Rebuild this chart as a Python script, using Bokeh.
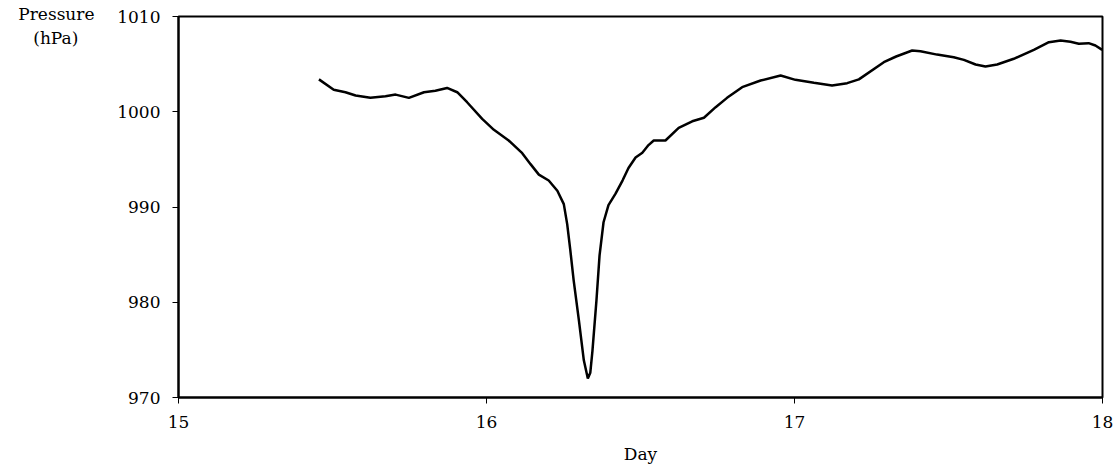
from bokeh.plotting import figure
from bokeh.models import Range1d, FixedTicker, LinearAxis
from bokeh.embed import file_html
from bokeh.resources import INLINE

day = [15.456, 15.504, 15.542, 15.575, 15.623, 15.672, 15.705, 15.748, 15.797, 15.834,
       15.872, 15.905, 15.937, 15.986, 16.024, 16.072, 16.116, 16.143, 16.170, 16.202,
       16.230, 16.251, 16.262, 16.272, 16.283, 16.300, 16.316, 16.329, 16.337, 16.344,
       16.357, 16.367, 16.380, 16.396, 16.419, 16.442, 16.461, 16.484, 16.506, 16.526,
       16.543, 16.581, 16.624, 16.668, 16.706, 16.744, 16.781, 16.830, 16.890, 16.955,
       17.003, 17.063, 17.122, 17.171, 17.209, 17.290, 17.330, 17.382, 17.409, 17.463,
       17.517, 17.550, 17.588, 17.620, 17.658, 17.712, 17.777, 17.826, 17.864, 17.896,
       17.923, 17.955, 17.977, 17.999]
pressure = [1003.4, 1002.3, 1002.05, 1001.7, 1001.46, 1001.63, 1001.8, 1001.46, 1002.05, 1002.2,
            1002.5, 1002.05, 1001.0, 999.26, 998.1, 996.98, 995.65, 994.5, 993.4, 992.78,
            991.7, 990.3, 988.2, 985.5, 982.3, 978.1, 973.9, 972.0, 972.6, 974.9,
            980.2, 984.9, 988.4, 990.2, 991.4, 992.8, 994.1, 995.2, 995.7, 996.5,
            996.98, 996.98, 998.3, 999.0, 999.37, 1000.48, 1001.46, 1002.58, 1003.28, 1003.8,
            1003.35, 1003.04, 1002.76, 1003.0, 1003.4, 1005.2, 1005.8, 1006.43, 1006.36, 1006.0,
            1005.73, 1005.45, 1004.96, 1004.75, 1004.96, 1005.56, 1006.5, 1007.3, 1007.48, 1007.34,
            1007.13, 1007.2, 1006.96, 1006.5]
x_ticks = [15, 16, 17, 18]
y_ticks = [970, 980, 990, 1000, 1010]
y_title = "Pressure\n(hPa)\u00a0\u00a0\u00a0"
x_title = "Day"

FONT = "DejaVu Serif"
FS = "17px"

p = figure(width=1119, height=466, output_backend="svg", toolbar_location=None,
           x_range=Range1d(15, 18), y_range=Range1d(970, 1010),
           min_border_left=178, min_border_right=17, min_border_top=16, min_border_bottom=69)
p.line(day, pressure, line_color="black", line_width=2.5)

p.xgrid.visible = False
p.ygrid.visible = False
p.outline_line_color = "black"
p.outline_line_width = 2
p.background_fill_color = "white"
p.border_fill_color = "white"

p.xaxis.ticker = FixedTicker(ticks=x_ticks)
p.yaxis.ticker = FixedTicker(ticks=y_ticks)
for ax in (p.xaxis[0], p.yaxis[0]):
    ax.axis_line_color = "black"
    ax.axis_line_width = 2
    ax.major_tick_in = 0
    ax.major_tick_out = 6
    ax.major_tick_line_color = "black"
    ax.minor_tick_line_color = None
    ax.major_label_text_font = FONT
    ax.major_label_text_font_size = FS
    ax.major_label_text_color = "black"
p.xaxis.major_label_standoff = 12
p.yaxis.major_label_standoff = 12
p.xaxis.axis_label = x_title
p.xaxis.axis_label_text_font = FONT
p.xaxis.axis_label_text_font_style = "normal"
p.xaxis.axis_label_text_font_size = FS
p.xaxis.axis_label_text_color = "black"
p.xaxis.axis_label_standoff = 13

title_axis = LinearAxis(ticker=FixedTicker(ticks=[1009]),
                        major_label_overrides={1009: y_title},
                        axis_line_color=None, major_tick_line_color=None,
                        minor_tick_line_color=None, major_label_standoff=14,
                        major_label_text_font=FONT, major_label_text_font_size=FS,
                        major_label_text_color="black")
p.add_layout(title_axis, "left")

open("out.html", "w").write(file_html(p, INLINE))
